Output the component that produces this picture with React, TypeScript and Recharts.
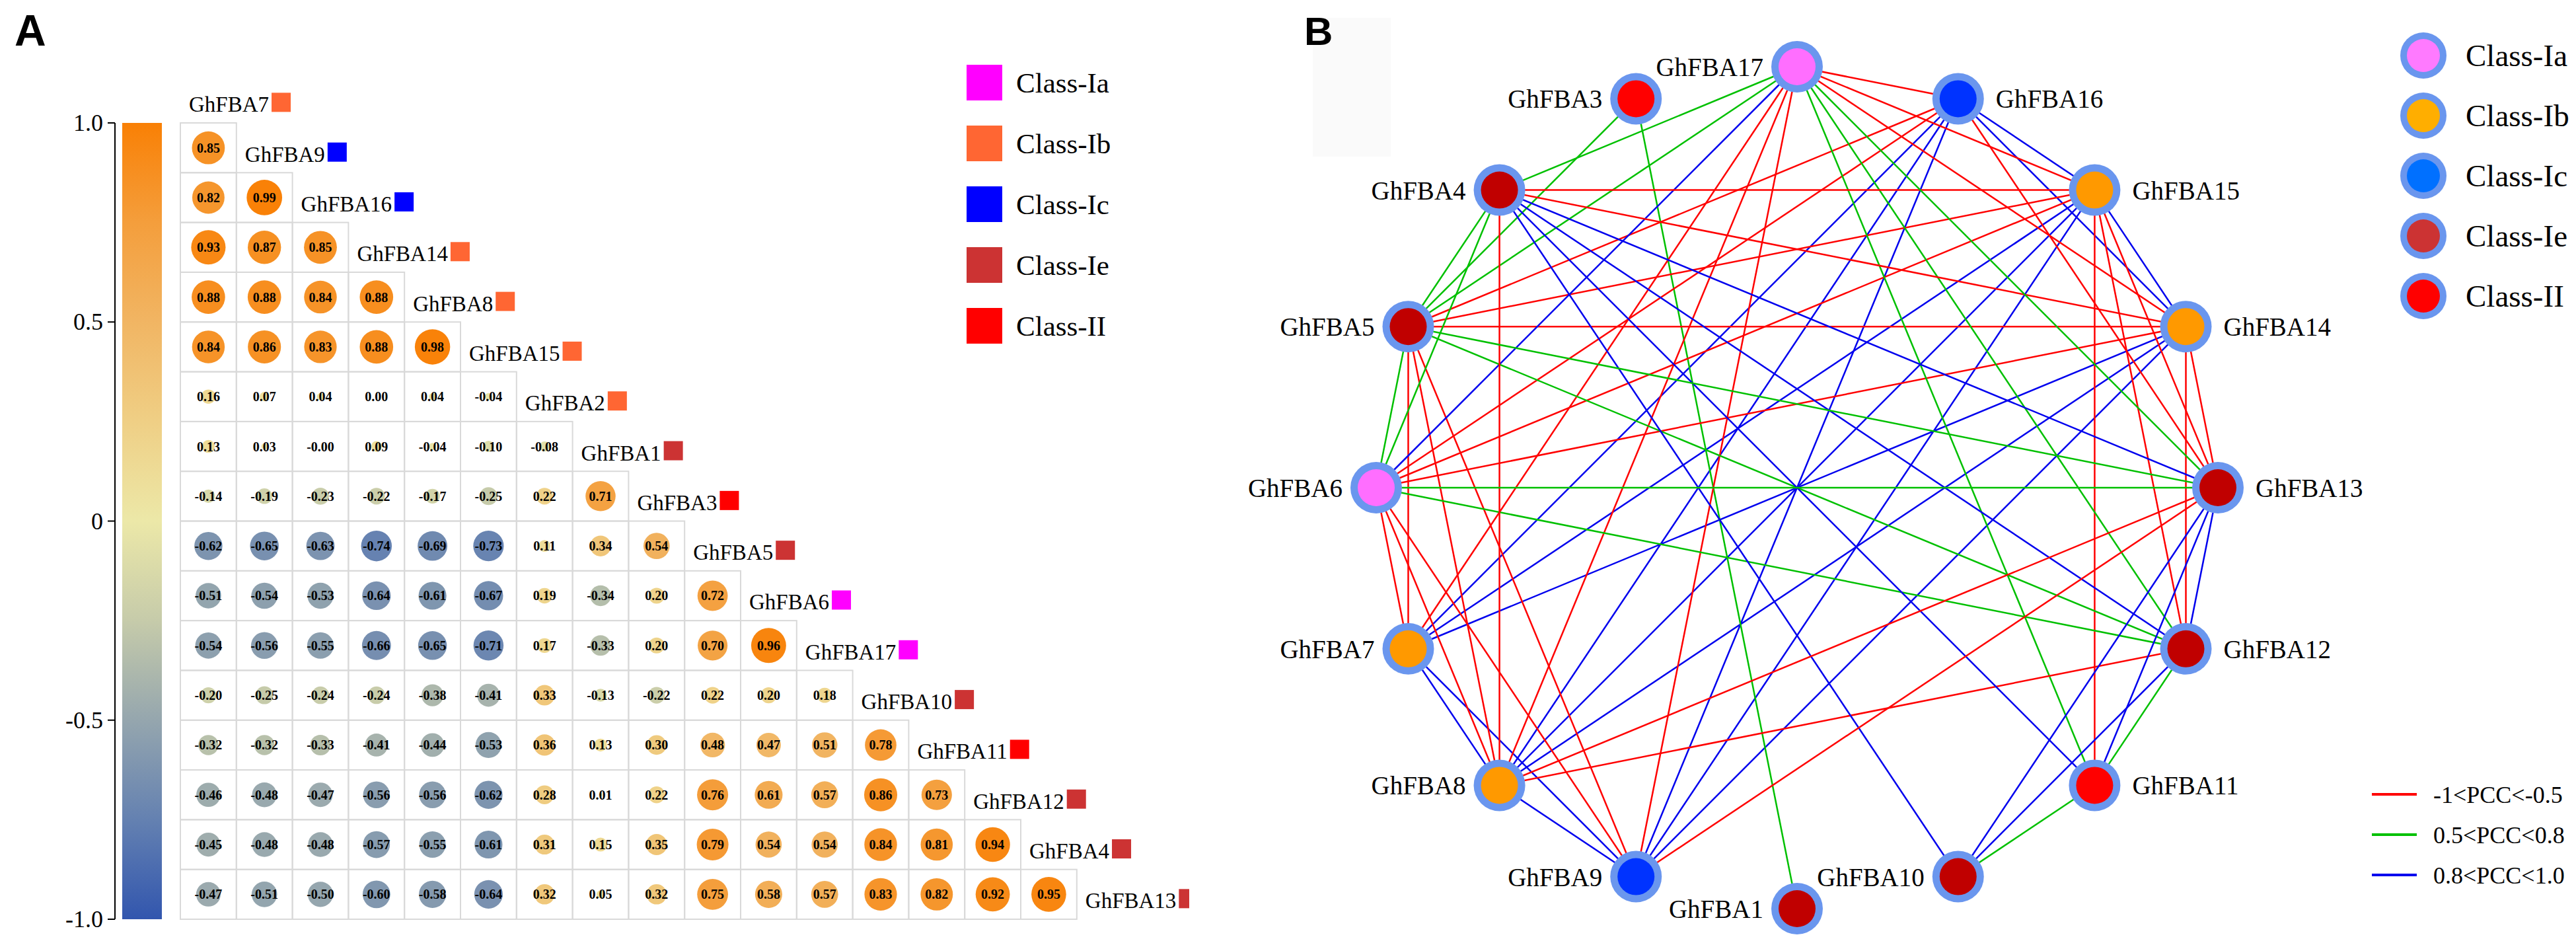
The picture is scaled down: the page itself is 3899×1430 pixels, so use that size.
import React from "react"
import { ScatterChart, Scatter, XAxis, YAxis, BarChart, Bar } from "recharts"

// genes in the order of the correlation matrix (diagonal labels, top to bottom)
const genes = [
  "GhFBA7", "GhFBA9", "GhFBA16", "GhFBA14", "GhFBA8", "GhFBA15", "GhFBA2", "GhFBA1", "GhFBA3",
  "GhFBA5", "GhFBA6", "GhFBA17", "GhFBA10", "GhFBA11", "GhFBA12", "GhFBA4", "GhFBA13",
]
// 0 = Ia, 1 = Ib, 2 = Ic, 3 = Ie, 4 = II
const geneClass = [1, 2, 2, 1, 1, 1, 1, 3, 4, 3, 0, 0, 3, 4, 3, 3, 3]

// lower triangle, row i+1 against columns 0..i
const corrRows = [
  [0.85],
  [0.82, 0.99],
  [0.93, 0.87, 0.85],
  [0.88, 0.88, 0.84, 0.88],
  [0.84, 0.86, 0.83, 0.88, 0.98],
  [0.16, 0.07, 0.04, 0.0, 0.04, -0.04],
  [0.13, 0.03, -0.0, 0.09, -0.04, -0.1, -0.08],
  [-0.14, -0.19, -0.23, -0.22, -0.17, -0.25, 0.22, 0.71],
  [-0.62, -0.65, -0.63, -0.74, -0.69, -0.73, 0.11, 0.34, 0.54],
  [-0.51, -0.54, -0.53, -0.64, -0.61, -0.67, 0.19, -0.34, 0.2, 0.72],
  [-0.54, -0.56, -0.55, -0.66, -0.65, -0.71, 0.17, -0.33, 0.2, 0.7, 0.96],
  [-0.2, -0.25, -0.24, -0.24, -0.38, -0.41, 0.33, -0.13, -0.22, 0.22, 0.2, 0.18],
  [-0.32, -0.32, -0.33, -0.41, -0.44, -0.53, 0.36, 0.13, 0.3, 0.48, 0.47, 0.51, 0.78],
  [-0.46, -0.48, -0.47, -0.56, -0.56, -0.62, 0.28, 0.01, 0.22, 0.76, 0.61, 0.57, 0.86, 0.73],
  [-0.45, -0.48, -0.48, -0.57, -0.55, -0.61, 0.31, 0.15, 0.35, 0.79, 0.54, 0.54, 0.84, 0.81, 0.94],
  [-0.47, -0.51, -0.502, -0.6, -0.58, -0.64, 0.32, 0.05, 0.32, 0.75, 0.58, 0.57, 0.83, 0.82, 0.92, 0.95],
]

const classNames = ["Class-Ia", "Class-Ib", "Class-Ic", "Class-Ie", "Class-II"]
const classSquareColors = ["#FF00FF", "#FF6633", "#0000FF", "#CC3333", "#FF0000"]
const classNodeColors = ["#FF6EFF", "#FF9900", "#0033FF", "#C00000", "#FF0000"]
const classLegendColors = ["#FF7AFF", "#FFAE00", "#0070FF", "#CC3333", "#FF0000"]

const colorbarTicks = [-1, -0.5, 0, 0.5, 1]

// clockwise from the top of the network circle
const networkOrder = [
  "GhFBA17", "GhFBA16", "GhFBA15", "GhFBA14", "GhFBA13", "GhFBA12", "GhFBA11", "GhFBA10",
  "GhFBA1", "GhFBA9", "GhFBA8", "GhFBA7", "GhFBA6", "GhFBA5", "GhFBA4", "GhFBA3",
]
const rightLabeled = ["GhFBA16", "GhFBA15", "GhFBA14", "GhFBA13", "GhFBA12", "GhFBA11"]

const pccLabels = ["-1<PCC<-0.5", "0.5<PCC<0.8", "0.8<PCC<1.0"]
const pccColors = ["#FF0000", "#00C000", "#0000EE"]

const SERIF = "'Liberation Serif', 'Times New Roman', serif"
const SANS = "'Liberation Sans', Arial, sans-serif"

// colour scale stops (value, colour)
const cbStops: [number, string][] = [
  [-1, "#3256AE"],
  [-0.75, "#6481B1"],
  [-0.5, "#95A6AE"],
  [-0.25, "#C6CBAA"],
  [0, "#ECE8A8"],
  [0.25, "#EFCF85"],
  [0.5, "#F1B563"],
  [0.75, "#F49E3C"],
  [1, "#F98005"],
]

function hexToRgb(h: string) {
  const n = parseInt(h.slice(1), 16)
  return [(n >> 16) & 255, (n >> 8) & 255, n & 255]
}

function corrColor(v: number) {
  for (let i = 0; i < cbStops.length - 1; i++) {
    const [a, ca] = cbStops[i]
    const [b, cb] = cbStops[i + 1]
    if (v >= a && v <= b) {
      const t = (v - a) / (b - a)
      const A = hexToRgb(ca)
      const B = hexToRgb(cb)
      const c = A.map((x, k) => Math.round(x + (B[k] - x) * t))
      return `rgb(${c[0]},${c[1]},${c[2]})`
    }
  }
  return cbStops[cbStops.length - 1][1]
}

function fmt(v: number) {
  const s = Math.abs(v).toFixed(2)
  return (v < 0 || Object.is(v, -0) ? "-" : "") + s
}

let measureCtx: CanvasRenderingContext2D | null = null
function textWidth(t: string, font: string) {
  if (!measureCtx) measureCtx = document.createElement("canvas").getContext("2d")
  if (!measureCtx) return t.length * 18
  measureCtx.font = font
  return measureCtx.measureText(t).width
}

// ---- panel A layout
const M_W = 1800
const M_LEFT = 273
const M_TOP = 110.7
const M_BOTTOM = 39
const COL_W = 84.8
const ROW_H = 75.3
const M_RIGHT = M_W - M_LEFT - 17 * COL_W

const cellData = corrRows.flatMap((row, i) =>
  row.map((r, j) => ({ x: j + 0.5, y: i + 0.5, r }))
)
const labelData = genes.map((name, i) => ({ x: i, y: i - 0.5, name, cls: geneClass[i] }))

const CellShape = (props: any) => {
  const { cx, cy, payload } = props
  const v = payload.r
  const rad = 27 * Math.sqrt(Math.abs(v))
  return (
    <g>
      <rect x={cx - COL_W / 2} y={cy - ROW_H / 2} width={COL_W} height={ROW_H} fill="none" stroke="#D9D9D9" strokeWidth={2} />
      {rad > 0.5 && <circle cx={cx} cy={cy} r={rad} fill={corrColor(v)} />}
      <text x={cx} y={cy + 7} textAnchor="middle" fontFamily={SERIF} fontWeight="bold" fontSize={20} fill="#000">
        {fmt(v)}
      </text>
    </g>
  )
}

const LabelShape = (props: any) => {
  const { cx, cy, payload } = props
  const x0 = cx + 13
  const base = cy + 21
  const w = textWidth(payload.name, `33px ${SERIF}`)
  return (
    <g>
      <text x={x0} y={base} fontFamily={SERIF} fontSize={33} fill="#000">
        {payload.name}
      </text>
      <rect x={x0 + w + 4} y={base - 29} width={29} height={29} fill={classSquareColors[payload.cls]} />
    </g>
  )
}

const ColorbarTick = (props: any) => {
  const { x, y, payload } = props
  const v = payload.value
  const label = v === 1 ? "1.0" : v === -1 ? "-1.0" : String(v)
  return (
    <text x={x} y={y} dy={12} textAnchor="end" fontFamily={SERIF} fontSize={36} fill="#000">
      {label}
    </text>
  )
}

// ---- panel B
const geneIndex = (g: string) => genes.indexOf(g)

const nodeData = networkOrder.map((name, k) => {
  const a = (k * 2 * Math.PI) / networkOrder.length
  return { x: Math.sin(a), y: Math.cos(a), name, cls: geneClass[geneIndex(name)], right: rightLabeled.includes(name) }
})

function buildEdges() {
  const out: { a: string; b: string; r: number; color: string }[] = []
  corrRows.forEach((row, i) => {
    row.forEach((r, j) => {
      if (Math.abs(r) < 0.5) return
      const color = r < 0 ? pccColors[0] : r < 0.8 ? pccColors[1] : pccColors[2]
      out.push({ a: genes[i + 1], b: genes[j], r, color })
    })
  })
  return out
}
const edges = buildEdges().filter((e) => networkOrder.includes(e.a) && networkOrder.includes(e.b))

const nodeOf = (g: string) => nodeData.find((n) => n.name === g)!

const NoShape = () => <g />

const NodeShape = (props: any) => {
  const { cx, cy, payload } = props
  return (
    <g>
      <circle cx={cx} cy={cy} r={39} fill="#6A96EE" />
      <circle cx={cx} cy={cy} r={28} fill={classNodeColors[payload.cls]} />
      <text
        x={payload.right ? cx + 57 : cx - 51}
        y={cy + 14}
        textAnchor={payload.right ? "start" : "end"}
        fontFamily={SERIF}
        fontSize={39}
        fill="#000"
      >
        {payload.name}
      </text>
    </g>
  )
}

const B_LEFT = 1850
const B_W = 2049

export default function App() {
  return (
    <div style={{ position: "absolute", left: 0, top: 0, width: 3899, height: 1430, background: "#fff", overflow: "hidden" }}>
      <svg width={3899} height={1430} style={{ position: "absolute", left: 0, top: 0 }}>
        <defs>
          <linearGradient id="cbGrad" x1="0" y1="0" x2="0" y2="1">
            {cbStops
              .slice()
              .reverse()
              .map(([v, c]) => (
                <stop key={v} offset={`${((1 - v) / 2) * 100}%`} stopColor={c} />
              ))}
          </linearGradient>
        </defs>
        <rect x={1987} y={27} width={118} height={210} fill="#FAFAFA" />
        <text x={22} y={69} fontFamily={SANS} fontWeight="bold" fontSize={66} fill="#000">A</text>
        <text x={1974} y={68} fontFamily={SANS} fontWeight="bold" fontSize={60} fill="#000">B</text>

        {classNames.map((c, k) => (
          <g key={c}>
            <rect x={1463} y={98 + k * 92} width={54} height={54} fill={classSquareColors[k]} />
            <text x={1538} y={98 + k * 92 + 42} fontFamily={SERIF} fontSize={43} fill="#000">{c}</text>
          </g>
        ))}

        {classNames.map((c, k) => (
          <g key={"b" + c}>
            <circle cx={3668} cy={84 + k * 91} r={35} fill="#6A96EE" />
            <circle cx={3668} cy={84 + k * 91} r={25} fill={classLegendColors[k]} />
            <text x={3732} y={84 + k * 91 + 16} fontFamily={SERIF} fontSize={47} fill="#000">{c}</text>
          </g>
        ))}

        {pccLabels.map((t, k) => (
          <g key={t}>
            <line x1={3590} x2={3658} y1={1202 + k * 61} y2={1202 + k * 61} stroke={pccColors[k]} strokeWidth={4} />
            <text x={3683} y={1202 + k * 61 + 13} fontFamily={SERIF} fontSize={36} fill="#000">{t}</text>
          </g>
        ))}
      </svg>

      <div style={{ position: "absolute", left: 0, top: 0 }}>
        <BarChart width={260} height={1430} data={[{ name: "cb", range: [-1, 1] }]} margin={{ top: 186, bottom: 39, left: 0, right: 4 }}>
          <XAxis dataKey="name" hide />
          <YAxis
            type="number"
            domain={[-1, 1]}
            ticks={colorbarTicks}
            width={174}
            tick={<ColorbarTick />}
            axisLine={{ stroke: "#000", strokeWidth: 2 }}
            tickLine={{ stroke: "#000", strokeWidth: 2 }}
            tickSize={11}
            tickMargin={7}
          />
          <Bar dataKey="range" fill="url(#cbGrad)" barSize={60} isAnimationActive={false} />
        </BarChart>
      </div>

      <div style={{ position: "absolute", left: 0, top: 0 }}>
        <ScatterChart width={M_W} height={1430} margin={{ top: M_TOP, bottom: M_BOTTOM, left: M_LEFT, right: M_RIGHT }}>
          <XAxis type="number" dataKey="x" domain={[0, 17]} hide />
          <YAxis type="number" dataKey="y" domain={[-1, 16]} reversed hide />
          <Scatter data={cellData} shape={CellShape} isAnimationActive={false} />
          <Scatter data={labelData} shape={LabelShape} isAnimationActive={false} />
        </ScatterChart>
      </div>

      <div style={{ position: "absolute", left: B_LEFT, top: 0 }}>
        <ScatterChart width={B_W} height={1430} margin={{ top: 101, bottom: 55, left: 233, right: 542 }}>
          <XAxis type="number" dataKey="x" domain={[-1, 1]} hide />
          <YAxis type="number" dataKey="y" domain={[-1, 1]} hide />
          {edges.map((e, k) => {
            const p = nodeOf(e.a)
            const q = nodeOf(e.b)
            return (
              <Scatter
                key={"e" + k}
                data={[{ x: p.x, y: p.y }, { x: q.x, y: q.y }]}
                fill={e.color}
                line={{ stroke: e.color, strokeWidth: 2.5 }}
                shape={NoShape}
                isAnimationActive={false}
              />
            )
          })}
          <Scatter data={nodeData} shape={NodeShape} isAnimationActive={false} />
        </ScatterChart>
      </div>
    </div>
  )
}
